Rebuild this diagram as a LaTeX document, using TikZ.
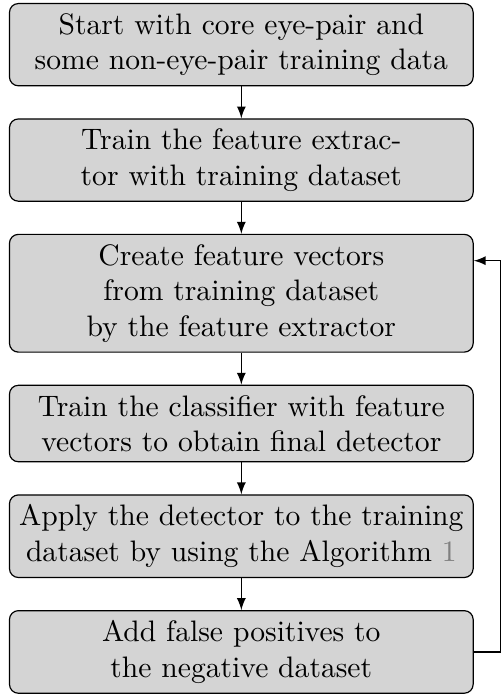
\documentclass[tikz,border=0pt]{standalone}
\usetikzlibrary{positioning}
\begin{document}
\begin{tikzpicture}[node distance=10.8pt, >=latex,
  stage/.style={draw, fill=black!17, rounded corners=3pt, text width=152pt, inner xsep=2.3pt, align=center}]
\node[stage] (start) {Start with core eye-pair and\\some non-eye-pair training data};
\node[stage, below=of start] (extractor) {Train the feature extrac-\\tor with training dataset};
\node[stage, below=of extractor] (vectors) {Create feature vectors\\from training dataset\\by the feature extractor};
\node[stage, below=of vectors] (classifier) {Train the classifier with feature\\vectors to obtain final detector};
\node[stage, below=of classifier] (apply) {Apply the detector to the training\\dataset by using the Algorithm \textcolor{black!50}{1}};
\node[stage, below=of apply] (falsepos) {Add false positives to\\the negative dataset};

\draw[->] (start) -- (extractor);
\draw[->] (extractor) -- (vectors);
\draw[->] (vectors) -- (classifier);
\draw[->] (classifier) -- (apply);
\draw[->] (apply) -- (falsepos);

\coordinate (loop) at ([xshift=9pt]falsepos.east);
\draw[->] (falsepos.east) -- (loop) |- ([yshift=11pt]vectors.east);

\pgfresetboundingbox
\path[use as bounding box] ([shift={(-3pt,1pt)}]start.north west) rectangle ([shift={(9.2pt,-0.4pt)}]falsepos.south east);
\end{tikzpicture}
\end{document}
